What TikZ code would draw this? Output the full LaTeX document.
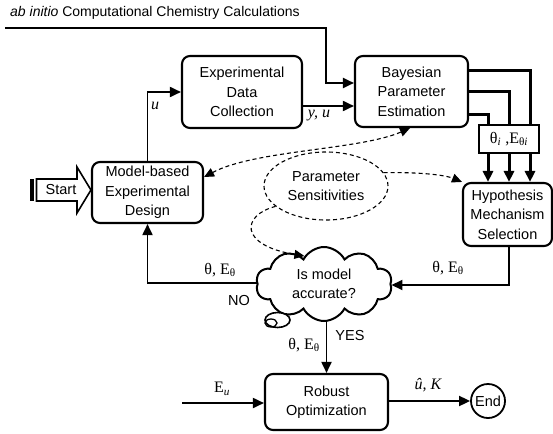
\documentclass[tikz,border=0pt]{standalone}
\usepackage{fontspec}
\setmainfont{Liberation Sans}
\newfontfamily\lserif{Liberation Serif}
\usetikzlibrary{arrows.meta,shapes.geometric,shapes.symbols}
\tikzset{
  box/.style={draw, line width=2.1pt, rounded corners=8pt, align=center, inner sep=0pt, fill=white},
  conn/.style={line width=1.8pt},
  arr/.style={conn, -{Triangle[length=11pt,width=10pt]}},
  fat/.style={line width=3pt, -{Triangle[length=11pt,width=10pt]}},
  dasharr/.style={line width=1.1pt, dash pattern=on 4pt off 3pt, -{Triangle[length=10pt,width=9pt]}},
  dashboth/.style={line width=1.1pt, dash pattern=on 4pt off 3pt, {Triangle[length=10pt,width=9pt]}-{Triangle[length=10pt,width=9pt]}},
  lab/.style={font=\lserif\fontsize{16}{17}\selectfont, inner sep=0pt},
  txt/.style={font=\fontsize{14.5}{19.5}\selectfont}
}
\begin{document}
\begin{tikzpicture}[x=1pt,y=-1pt]
\useasboundingbox (0,0) rectangle (553,433);
% title
\node[anchor=west, inner sep=0pt, font=\fontsize{14}{15}\selectfont] (title) at (10,13) {\textit{ab initio} Computational Chemistry Calculations};
% boxes
\node[box, txt, minimum width=120pt, minimum height=72pt] (exp) at (242,92) {Experimental\\Data\\Collection};
\node[box, txt, minimum width=113pt, minimum height=71pt] (bayes) at (411.5,91.5) {Bayesian\\Parameter\\Estimation};
\node[box, txt, minimum width=111pt, minimum height=61pt] (design) at (147.5,192.5) {Model-based\\Experimental\\Design};
\node[box, txt, minimum width=89pt, minimum height=63pt] (hyp) at (507.5,214.5) {Hypothesis\\Mechanism\\Selection};
\node[box, txt, minimum width=123pt, minimum height=56pt] (robust) at (326.5,402) {Robust\\Optimization};
\node[draw, circle, line width=1.8pt, txt, minimum size=34pt, inner sep=0pt] (end) at (488,401) {End};
\node[draw, ellipse, dash pattern=on 4pt off 3pt, line width=1.1pt, txt, minimum width=124pt, minimum height=68pt, inner sep=0pt, align=center] (sens) at (326,186) {Parameter\\Sensitivities};
\node[draw, cloud, cloud puffs=10, cloud puff arc=125, aspect=1.9, line width=2pt, txt, minimum width=136pt, minimum height=74pt, inner sep=0pt, align=center, fill=white] (cloud) at (324,284) {Is model\\accurate?};
\draw[line width=1.6pt, fill=white] (277.5,320) ellipse (12.5pt and 7.5pt);
\draw[line width=1.3pt] (271,323) ellipse (6pt and 4pt);
% start arrow
\fill (30,179) rectangle (34,201);
\node[txt, inner sep=0pt] (start) at (61,190) {Start};
\draw[line width=1.6pt, line join=miter] (36.5,179) -- (77,179) -- (77,167) -- (design.west |- 0,190) -- (77,213) -- (77,201) -- (36.5,201) -- cycle;
% top line
\coordinate (tl) at (5,28);
\coordinate (tr) at (326,28);
\draw[line width=2.2pt, -{Triangle[length=11pt,width=10pt]}] (tl) -- (tr) -- (tr |- 0,83) -- (bayes.west |- 0,83);
% design -> exp
\draw[arr] (design.north) |- (exp.west);
\node[lab, font=\lserif\itshape\fontsize{16}{17}\selectfont] (lu) at (155,106) {u};
% exp -> bayes
\draw[arr] (exp.east |- 0,106) -- (bayes.west |- 0,106);
\node[lab] (lyu) at (319,116) {\itshape y, u};
% bayes -> hyp
\coordinate (b1) at (530,71);
\coordinate (b2) at (509,92);
\coordinate (b3) at (488,114);
\draw[fat] (bayes.east |- b1) -- (b1) -- (b1 |- hyp.north);
\draw[fat] (bayes.east |- b2) -- (b2) -- (b2 |- hyp.north);
\draw[fat] (bayes.east |- b3) -- (b3) -- (b3 |- hyp.north);
\node[draw, fill=white, line width=1.1pt, minimum width=60pt, minimum height=28pt, inner sep=0pt, lab] (tbox) at (509,139) {θ\textsubscript{\itshape i} ,E\textsubscript{θ\itshape i}};
% hyp -> cloud
\coordinate (hc) at (509,285);
\draw[arr] (hyp.south -| hc) -- (hc) -- (cloud.east |- hc);
\node[lab] (l1) at (448,268) {θ, E\textsubscript{θ}};
% cloud -> design
\coordinate (cd) at (147.5,283);
\draw[arr] (cloud.west |- cd) -- (cd) -- (design.south);
\node[lab] (l2) at (220,270) {θ, E\textsubscript{θ}};
\node[txt, inner sep=0pt] (no) at (239,301) {NO};
% cloud -> robust
\draw[arr] (cloud.south -| robust.north) -- (robust.north);
\node[txt, inner sep=0pt] (yes) at (350,336) {YES};
\node[lab] (l3) at (304,345) {θ, E\textsubscript{θ}};
% Eu -> robust
\coordinate (eu) at (182,403);
\draw[arr] (eu) -- (robust.west |- eu);
\node[lab] (leu) at (222,389) {E\textsubscript{\itshape u}};
% robust -> end
\draw[arr] (robust.east |- end.west) -- (end.west);
\node[lab] (luk) at (428,385) {\itshape û, K};
% dashed
\draw[dashboth] (design.east |- 0,177) .. controls (255,150) and (360,150) .. (bayes.south -| 410,0);
\draw[dasharr] (sens.13) .. controls (420,172) and (445,175) .. (hyp.north west);
\draw[dasharr] (sens.202) .. controls (242,215) and (238,245) .. (cloud.125);
\end{tikzpicture}
\end{document}
